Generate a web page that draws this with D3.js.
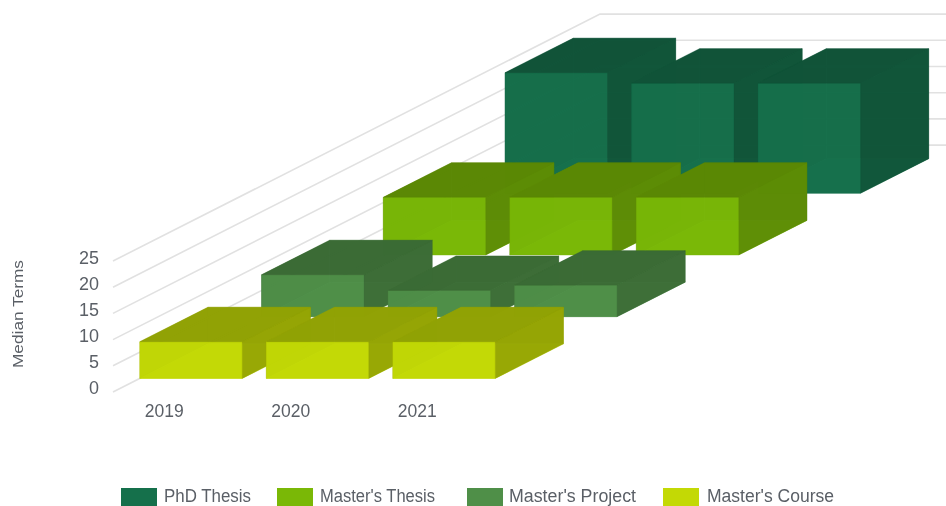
<!DOCTYPE html>
<html>
<head>
<meta charset="utf-8">
<script src="https://cdn.jsdelivr.net/npm/d3@7"></script>
<style>
  html, body { margin: 0; padding: 0; background: #fff; overflow: hidden; }
  svg { display: block; filter: blur(0.5px); }
  text { font-family: "Liberation Sans", "Open Sans", sans-serif; fill: #5a5f66; }
</style>
</head>
<body>
<div id="vis"></div>
<script>
var years = ["2019", "2020", "2021"];
var yTicks = [0, 5, 10, 15, 20, 25];

// back row first, this is also the legend order
var seriesNames = ["PhD Thesis", "Master's Thesis", "Master's Project", "Master's Course"];
var phdThesis = [23, 21, 21];
var mastersThesis = [11, 11, 11];
var mastersProject = [8, 5, 6];
var mastersCourse = [7, 7, 7];
var seriesValues = [phdThesis, mastersThesis, mastersProject, mastersCourse];
var seriesColors = ["#15704b", "#7ab806", "#4f8f48", "#c3d905"];

var legendBoxX = [121, 277, 467, 663];
var legendTextX = [164, 320, 509, 707];
var legendTextW = [87, 115, 127, 127];

var width = 946;
var height = 506;

var originX = 113;
var originY = 392;
var depthSlope = 0.507;
var opacity = 0.93;

var svg = d3.select("#vis")
    .append("svg")
    .attr("width", width)
    .attr("height", height);

var xScale = d3.scaleBand()
    .domain(years)
    .range([0, 355.5])
    .paddingInner(0.19)
    .paddingOuter(0);

// depth axis runs back to front reversed, front row is nearest the origin
var zScale = d3.scaleBand()
    .domain(seriesNames.slice().reverse())
    .range([0, 487])
    .paddingInner(0.44)
    .paddingOuter(0.22);

var yScale = d3.scaleLinear()
    .domain([0, 25])
    .range([0, 131]);

function project(x, y, z) {
    return [originX + x + z, originY - y - z * depthSlope];
}

var line = d3.line();

// Grid, drawn along the left wall and then across the back wall
var gridRight = 400;
svg.append("g").selectAll("path")
    .data(yTicks)
    .enter().append("path")
    .attr("fill", "none")
    .attr("stroke", "#e1e1e1")
    .attr("stroke-width", 1.6)
    .attr("d", function (d) {
        return line([
            project(0, yScale(d), 0),
            project(0, yScale(d), 487),
            project(gridRight, yScale(d), 487)
        ]);
    });

function darker(color, k) {
    var c = d3.rgb(color);
    return d3.rgb(c.r * k, c.g * k, c.b * k).formatHex();
}

function drawBar(g, name, year, value, color) {
    var x0 = xScale(year);
    var x1 = x0 + xScale.bandwidth();
    var z0 = zScale(name);
    var z1 = z0 + zScale.bandwidth();
    var h = yScale(value);
    var top = darker(color, 0.74);
    var side = darker(color, 0.76);

    var faces = [
        // back
        {c: side, p: [[x0, 0, z1], [x1, 0, z1], [x1, h, z1], [x0, h, z1]]},
        // left
        {c: side, p: [[x0, 0, z0], [x0, 0, z1], [x0, h, z1], [x0, h, z0]]},
        // bottom
        {c: color, p: [[x0, 0, z0], [x1, 0, z0], [x1, 0, z1], [x0, 0, z1]]},
        // front
        {c: color, p: [[x0, 0, z0], [x1, 0, z0], [x1, h, z0], [x0, h, z0]]},
        // right
        {c: side, p: [[x1, 0, z0], [x1, 0, z1], [x1, h, z1], [x1, h, z0]]},
        // top
        {c: top, p: [[x0, h, z0], [x1, h, z0], [x1, h, z1], [x0, h, z1]]}
    ];

    g.selectAll("path")
        .data(faces)
        .enter().append("path")
        .attr("fill", function (d) { return d.c; })
        .attr("fill-opacity", opacity)
        .attr("stroke", function (d) { return d.c; })
        .attr("stroke-opacity", 0.5)
        .attr("stroke-width", 0.5)
        .attr("d", function (d) {
            return line(d.p.map(function (q) {
                return project(q[0], q[1], q[2]);
            })) + "Z";
        });
}

seriesNames.forEach(function (name, i) {
    years.forEach(function (year, j) {
        drawBar(svg.append("g"), name, year, seriesValues[i][j], seriesColors[i]);
    });
});

// Axes
var yAxisScale = d3.scaleLinear()
    .domain([0, 25])
    .range([originY - 4, originY - 134]);

var yAxis = svg.append("g")
    .attr("transform", "translate(99,0)")
    .call(d3.axisLeft(yAxisScale).tickValues(yTicks).tickSize(0).tickPadding(0));
yAxis.select(".domain").remove();
yAxis.selectAll("text").style("font-size", "18px")
    .attr("lengthAdjust", "spacingAndGlyphs")
    .attr("textLength", function (d) { return d < 10 ? 10 : 20; });

var xAxis = svg.append("g")
    .attr("transform", "translate(" + originX + ",403)")
    .call(d3.axisBottom(xScale).tickSize(0).tickPadding(0));
xAxis.select(".domain").remove();
xAxis.selectAll("text").style("font-size", "18px").attr("dy", "0.8em")
    .attr("textLength", 39).attr("lengthAdjust", "spacingAndGlyphs");

svg.append("text")
    .attr("transform", "translate(23,314) rotate(-90)")
    .attr("text-anchor", "middle")
    .attr("textLength", 108)
    .attr("lengthAdjust", "spacingAndGlyphs")
    .style("font-size", "14px")
    .text("Median Terms");

// Legend
var legend = svg.append("g").selectAll("g")
    .data(seriesNames)
    .enter().append("g");

legend.append("rect")
    .attr("x", function (d, i) { return legendBoxX[i]; })
    .attr("y", 488)
    .attr("width", 36)
    .attr("height", 18)
    .attr("fill", function (d, i) { return seriesColors[i]; });

legend.append("text")
    .attr("x", function (d, i) { return legendTextX[i]; })
    .attr("y", 502)
    .attr("textLength", function (d, i) { return legendTextW[i]; })
    .attr("lengthAdjust", "spacingAndGlyphs")
    .style("font-size", "18px")
    .text(function (d) { return d; });
</script>
</body>
</html>
